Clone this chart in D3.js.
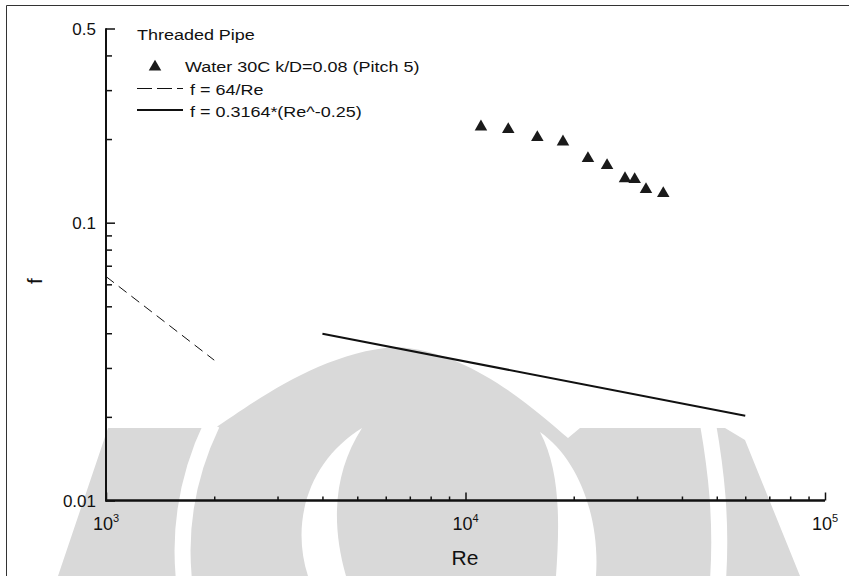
<html>
<head>
<script src="https://d3js.org/d3.v7.min.js"></script>
<style>
  body { margin: 0; background: #fff; }
  text { font-family: "Liberation Sans", Arial, sans-serif; fill: #111; }
</style>
</head>
<body>
<svg id="chart" width="849" height="576"></svg>
<script>
// measured data (Re, f)
const waterRe = [11040, 13150, 15840, 18670, 21910, 24760, 27780, 29550, 31770, 35490];
const waterF  = [0.2214, 0.2165, 0.2026, 0.1955, 0.1703, 0.1607, 0.1442, 0.1431, 0.1317, 0.1274];
// f = 64/Re, read at the ends
const lamRe = [1000, 2000];
const lamF  = [0.064, 0.032];
// f = 0.3164*Re^-0.25, read at the ends
const blasRe = [4000, 60000];
const blasF  = [0.0398, 0.0202];

const yTickLabels = [0.5, 0.1, 0.01];
const xTickLabels = [1000, 10000, 100000];
const legendTitle = "Threaded Pipe";
const legendLabels = ["Water 30C k/D=0.08 (Pitch 5)", "f = 64/Re", "f = 0.3164*(Re^-0.25)"];

const svg = d3.select("#chart");

// watermark in the background
const wm = svg.append("g");
wm.append("path").attr("fill", "#d9d9d9")
  .attr("d", "M58,576 L108,428 L215,428 C250,405 320,352 395,347 C470,350 535,410 568,438 L580,428 L725,428 L745,440 L800,576 Z");
wm.append("path").attr("fill", "none").attr("stroke", "#fff").attr("stroke-width", 16)
  .attr("d", "M212,424 C190,470 178,520 184,580");
wm.append("path").attr("fill", "none").attr("stroke", "#fff").attr("stroke-width", 16)
  .attr("d", "M708,424 C716,470 722,520 718,580");
wm.append("path").attr("fill", "#fff")
  .attr("d", "M362,428 C310,460 290,520 308,576 L346,576 C330,520 335,470 362,428 Z");
wm.append("path").attr("fill", "#fff")
  .attr("d", "M540,432 C580,460 600,520 596,576 L556,576 C560,520 560,470 540,432 Z");

// frame
svg.append("path").attr("fill", "none").attr("stroke", "#333").attr("stroke-width", 1)
  .attr("d", "M6.5,576 L6.5,5.5 L849,5.5");

const x = d3.scaleLog().domain([1000, 100000]).range([106, 825]);
const y = d3.scaleLog().domain([0.01, 0.5]).range([500.5, 28.5]);

// x axis
const xMinor = [];
for (let d = 1000; d < 100000; d *= 10) for (let k = 2; k <= 9; k++) xMinor.push(d * k);
const xAxis = svg.append("g").attr("transform", "translate(0,500.5)");
xAxis.call(d3.axisBottom(x).tickValues(xTickLabels).tickSize(-8).tickFormat(""));
xAxis.append("g").call(d3.axisBottom(x).tickValues(xMinor).tickSize(-4).tickFormat(""));
xAxis.selectAll("path.domain").attr("stroke", "#111").attr("stroke-width", 2).attr("d", "M106,0H825");
xAxis.selectAll("line").attr("stroke", "#111").attr("stroke-width", 1.5);

xTickLabels.forEach(v => {
  const t = svg.append("text").attr("x", x(v)).attr("y", 530).attr("text-anchor", "middle")
    .style("font-size", "18px");
  t.append("tspan").text("10");
  t.append("tspan").attr("dy", -8).style("font-size", "11px").text(Math.round(Math.log10(v)));
});

// y axis
const yMinor = [];
[0.01, 0.1].forEach(d => { for (let k = 2; k <= 9; k++) if (d * k < 0.5) yMinor.push(d * k); });
const yAxis = svg.append("g").attr("transform", "translate(106,0)");
yAxis.call(d3.axisLeft(y).tickValues(yTickLabels).tickSize(-9).tickFormat(""));
yAxis.append("g").call(d3.axisLeft(y).tickValues(yMinor).tickSize(-6).tickFormat(""));
yAxis.selectAll("path.domain").attr("stroke", "#111").attr("stroke-width", 2).attr("d", "M0,501.5V28.5");
yAxis.selectAll("line").attr("stroke", "#111").attr("stroke-width", 1.5);

yTickLabels.forEach(v => {
  svg.append("text").attr("x", 96).attr("y", y(v) + 6).attr("text-anchor", "end")
    .style("font-size", "17px").text(String(v));
});

// axis titles
svg.append("text").attr("x", 465).attr("y", 565).attr("text-anchor", "middle")
  .style("font-size", "21px").text("Re");
svg.append("text").attr("transform", "translate(42,281) rotate(-90)").attr("text-anchor", "middle")
  .style("font-size", "21px").text("f");

// curves
const line = d3.line().x(d => x(d[0])).y(d => y(d[1]));
svg.append("path").datum(d3.zip(lamRe, lamF)).attr("d", line)
  .attr("fill", "none").attr("stroke", "#111").attr("stroke-width", 1).attr("stroke-dasharray", "10,6");
svg.append("path").datum(d3.zip(blasRe, blasF)).attr("d", line)
  .attr("fill", "none").attr("stroke", "#111").attr("stroke-width", 2);

const tri = d3.symbol().type(d3.symbolTriangle).size(68);
svg.selectAll("path.pt").data(d3.zip(waterRe, waterF)).join("path")
  .attr("class", "pt").attr("d", tri)
  .attr("transform", d => `translate(${x(d[0])},${y(d[1])})`)
  .attr("fill", "#1a1a1a");

// legend (text in the source is a little wide, so stretch it)
const lg = svg.append("g");
function legendText(tx, ty, s) {
  lg.append("text").attr("transform", `translate(${tx},${ty}) scale(1.16,1)`)
    .style("font-size", "15.5px").text(s);
}
legendText(137, 40, legendTitle);
lg.append("path").attr("d", tri).attr("transform", "translate(155,67)").attr("fill", "#1a1a1a");
legendText(185, 72, legendLabels[0]);
lg.append("line").attr("x1", 137).attr("x2", 183).attr("y1", 88.5).attr("y2", 88.5)
  .attr("stroke", "#111").attr("stroke-width", 1).attr("stroke-dasharray", "15,5");
legendText(190, 95, legendLabels[1]);
lg.append("line").attr("x1", 137).attr("x2", 183).attr("y1", 110).attr("y2", 110)
  .attr("stroke", "#111").attr("stroke-width", 2);
legendText(190, 117, legendLabels[2]);
</script>
</body>
</html>
